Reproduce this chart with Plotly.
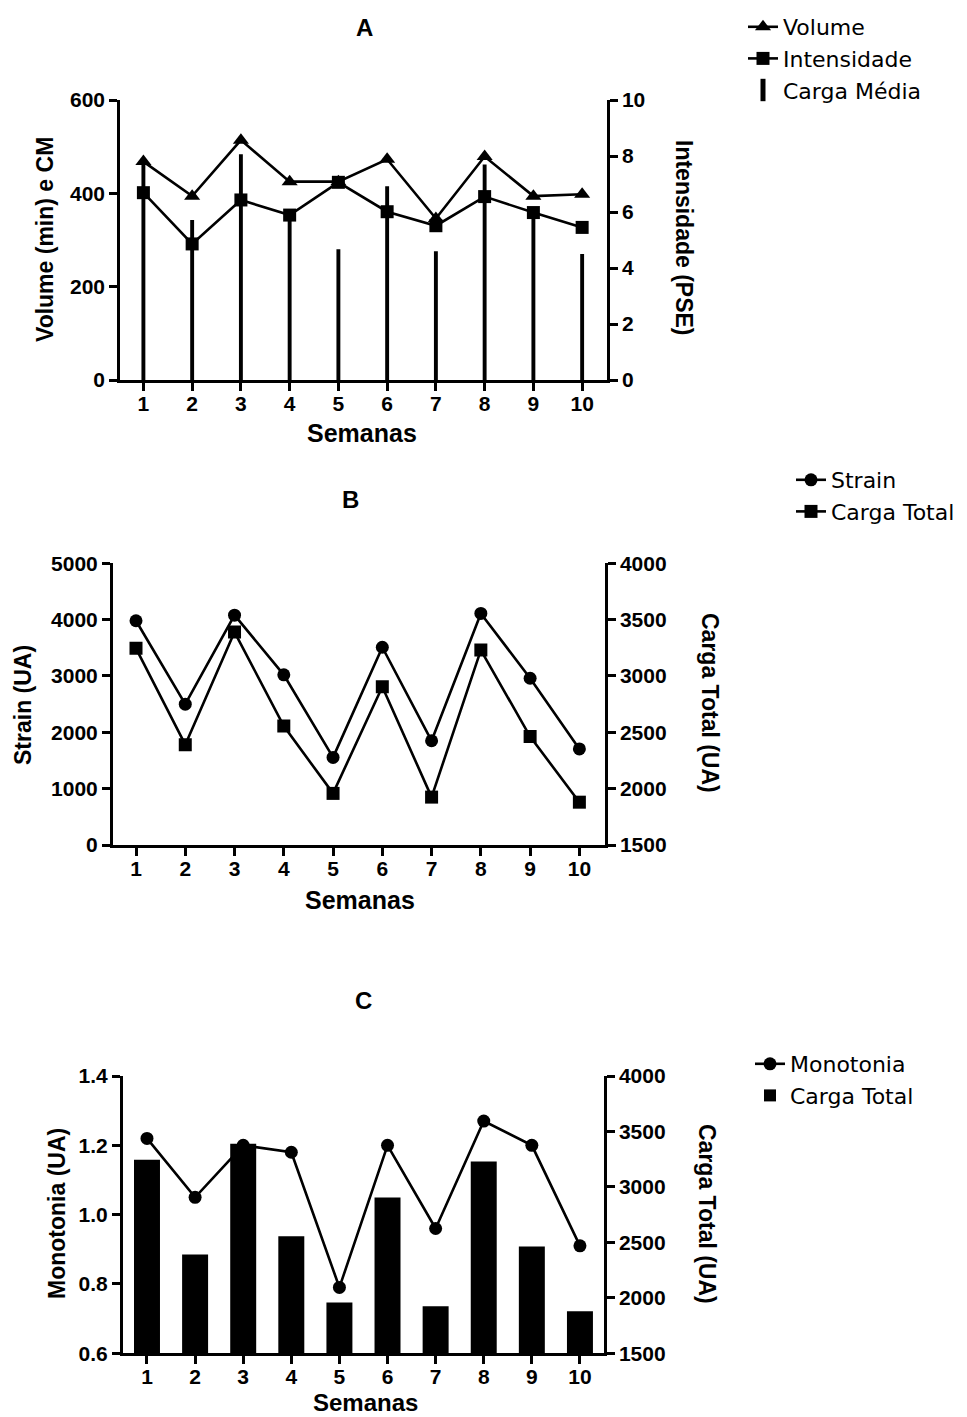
import plotly.graph_objects as go

# ---- data -------------------------------------------------------------
semanas = [1, 2, 3, 4, 5, 6, 7, 8, 9, 10]
volume_min = [468, 394, 514, 425, 425, 473, 346, 479, 394, 398]
intensidade_pse = [6.69, 4.86, 6.43, 5.89, 7.06, 6.01, 5.51, 6.55, 5.98, 5.45]
carga_media = [463, 343, 484, 360, 280, 415, 276, 462, 352, 270]
strain_ua = [3980, 2500, 4080, 3020, 1555, 3510, 1850, 4110, 2960, 1705]
carga_total_ua = [3245, 2390, 3390, 2555, 1958, 2905, 1925, 3230, 2462, 1880]
monotonia_ua = [1.22, 1.05, 1.20, 1.18, 0.79, 1.20, 0.96, 1.27, 1.20, 0.91]

W, H = 967, 1417
FONT = "Liberation Sans, Arial, Helvetica, sans-serif"
LEG_FONT = "DejaVu Sans, Liberation Sans, Arial, sans-serif"
BLACK = "#000000"


def px_x(p):
    return p / W


def px_y(p):
    return 1 - p / H


line_style = dict(color=BLACK, width=2.6)

fig = go.Figure()

# ---- panel A ----------------------------------------------------------
fig.add_trace(go.Bar(
    x=semanas, y=carga_media, width=0.08, marker=dict(color=BLACK, line=dict(width=0)),
    name="Carga Média", showlegend=False, legendgroup="cm",
    xaxis="x", yaxis="y"))
fig.add_trace(go.Scatter(
    x=semanas, y=volume_min, mode="lines+markers", name="Volume",
    line=line_style, marker=dict(symbol="triangle-up", size=14, color=BLACK),
    xaxis="x", yaxis="y", legend="legend", legendrank=1))
fig.add_trace(go.Scatter(
    x=semanas, y=intensidade_pse, mode="lines+markers", name="Intensidade",
    line=line_style, marker=dict(symbol="square", size=13, color=BLACK),
    xaxis="x", yaxis="y2", legend="legend", legendrank=2))
# legend key for the thin Carga Média bars
fig.add_trace(go.Scatter(
    x=[None], y=[None], mode="markers", name="Carga Média",
    marker=dict(symbol="line-ns", size=22, color=BLACK, line=dict(width=7, color=BLACK)),
    xaxis="x", yaxis="y", legend="legend", legendrank=3, legendgroup="cm"))

# ---- panel B ----------------------------------------------------------
fig.add_trace(go.Scatter(
    x=semanas, y=strain_ua, mode="lines+markers", name="Strain",
    line=line_style, marker=dict(symbol="circle", size=13, color=BLACK),
    xaxis="x2", yaxis="y3", legend="legend2"))
fig.add_trace(go.Scatter(
    x=semanas, y=carga_total_ua, mode="lines+markers", name="Carga Total",
    line=line_style, marker=dict(symbol="square", size=13, color=BLACK),
    xaxis="x2", yaxis="y4", legend="legend2"))

# ---- panel C ----------------------------------------------------------
fig.add_trace(go.Bar(
    x=semanas, y=carga_total_ua, width=0.54, name="Carga Total",
    marker=dict(color=BLACK, line=dict(width=0)),
    xaxis="x3", yaxis="y5", legend="legend3", legendrank=2))
fig.add_trace(go.Scatter(
    x=semanas, y=monotonia_ua, mode="lines+markers", name="Monotonia",
    line=line_style, marker=dict(symbol="circle", size=13, color=BLACK),
    xaxis="x3", yaxis="y6", legend="legend3", legendrank=1))

# ---- axes -------------------------------------------------------------
tick_font = dict(family=FONT, size=21, color=BLACK, weight="bold")
common = dict(showline=True, linecolor=BLACK, linewidth=2.5, ticks="outside",
              ticklen=8, tickwidth=2.5, tickcolor=BLACK, showgrid=False,
              zeroline=False, tickfont=tick_font, fixedrange=True)

panels = {
    # name: (x0, x1, ytop, ybottom, xrange)
    "A": (120, 607, 100, 380, [0.52, 10.51]),
    "B": (112.7, 605, 563.3, 845, [0.527, 10.52]),
    "C": (122.7, 604, 1076, 1353.3, [0.495, 10.5]),
}

xa = dict(tickvals=semanas, ticktext=[str(s) for s in semanas],
          ticklabelstandoff=-5, **common)

xA0, xA1, tA, bA, rA = panels["A"]
xB0, xB1, tB, bB, rB = panels["B"]
xC0, xC1, tC, bC, rC = panels["C"]

fig.update_layout(
    xaxis=dict(domain=[px_x(xA0), px_x(xA1)], range=rA, anchor="y", **xa),
    yaxis=dict(domain=[px_y(bA), px_y(tA)], range=[0, 600], tickvals=[0, 200, 400, 600],
               anchor="x", side="left", **common),
    yaxis2=dict(range=[0, 10], tickvals=[0, 2, 4, 6, 8, 10], overlaying="y",
                anchor="x", side="right", **common),

    xaxis2=dict(domain=[px_x(xB0), px_x(xB1)], range=rB, anchor="y3", **xa),
    yaxis3=dict(domain=[px_y(bB), px_y(tB)], range=[0, 5000],
                tickvals=[0, 1000, 2000, 3000, 4000, 5000], anchor="x2", side="left", **common),
    yaxis4=dict(range=[1500, 4000], tickvals=[1500, 2000, 2500, 3000, 3500, 4000],
                overlaying="y3", anchor="x2", side="right", **common),

    xaxis3=dict(domain=[px_x(xC0), px_x(xC1)], range=rC, anchor="y5", **xa),
    yaxis5=dict(domain=[px_y(bC), px_y(tC)], range=[1500, 4000],
                tickvals=[1500, 2000, 2500, 3000, 3500, 4000], anchor="x3", side="right", **common),
    yaxis6=dict(range=[0.6, 1.4], tickvals=[0.6, 0.8, 1.0, 1.2, 1.4],
                tickformat=".1f", overlaying="y5", anchor="x3", side="left", **common),
)

# ---- legends ----------------------------------------------------------
leg_font = dict(family=LEG_FONT, size=22, color=BLACK)
leg_common = dict(font=leg_font, bgcolor="rgba(0,0,0,0)", borderwidth=0,
                  xanchor="left", yanchor="top", tracegroupgap=0, itemwidth=30)
fig.update_layout(
    legend=dict(x=px_x(743), y=px_y(6), **leg_common),
    legend2=dict(x=px_x(791), y=px_y(459), **leg_common),
    legend3=dict(x=px_x(750), y=px_y(1043), **leg_common),
)

# ---- titles and axis labels ------------------------------------------
def label(text, x, y, size, angle=0, bold=True):
    fig.add_annotation(
        text=text, x=px_x(x), y=px_y(y), xref="paper", yref="paper",
        showarrow=False, textangle=angle, xanchor="center", yanchor="middle",
        font=dict(family=FONT, size=size, color=BLACK, weight="bold" if bold else "normal"))


label("A", 364, 27, 24)
label("B", 350, 499, 24)
label("C", 363, 1000, 24)

label("Semanas", 362, 433, 25)
label("Semanas", 360, 900, 25)
label("Semanas", 365, 1402, 24)

label("Volume (min) e CM", 45, 240, 23, angle=-90)
label("Intensidade (PSE)", 684, 238, 23, angle=90)
label("Strain (UA)", 23, 705, 23, angle=-90)
label("Carga Total (UA)", 710, 703, 23, angle=90)
label("Monotonia (UA)", 57, 1214, 23, angle=-90)
label("Carga Total (UA)", 707, 1214, 23, angle=90)

fig.update_layout(
    width=W, height=H,
    margin=dict(l=0, r=0, t=0, b=0, pad=0, autoexpand=False),
    paper_bgcolor="white", plot_bgcolor="white",
    barmode="overlay", showlegend=True,
    font=dict(family=FONT, color=BLACK),
)

fig.write_html("out.html")
